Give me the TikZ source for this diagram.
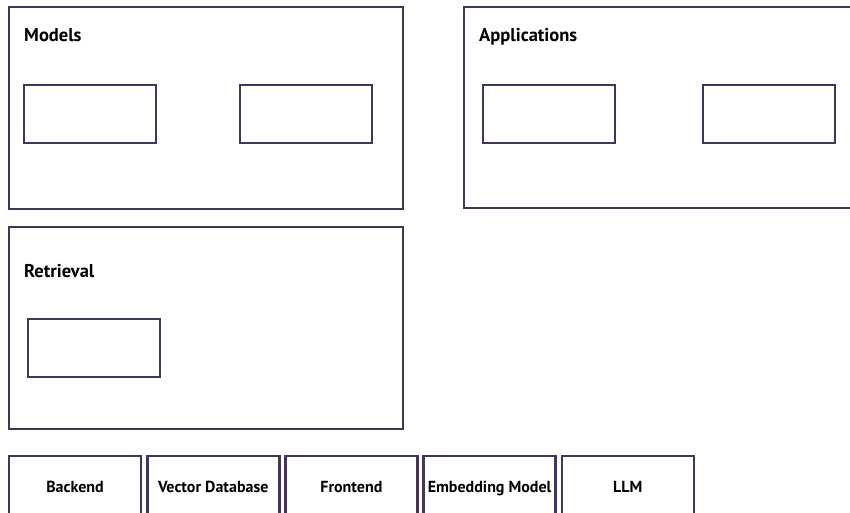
\documentclass[tikz,border=0pt]{standalone}
\usepackage{fontspec}
\setmainfont{PT Sans}
\usetikzlibrary{positioning}
\definecolor{frame}{HTML}{45345E}

\begin{document}
\begin{tikzpicture}[x=1pt,y=-1pt,
  box/.style={draw=frame,line width=2.6pt,rectangle,inner sep=0pt,outer sep=0pt,anchor=north west},
  slot/.style={box,minimum width=132pt,minimum height=58pt},
  title/.style={font=\bfseries\fontsize{18.5}{20}\selectfont,anchor=base west,inner sep=0pt},
  tag/.style={box,minimum width=132pt,minimum height=62pt,
    font=\bfseries\fontsize{16}{18}\selectfont,text height=11pt,text depth=0pt}]

\useasboundingbox (0,0) rectangle (850,513);
\clip (0,0) rectangle (850,513);

% layers
\node[box,minimum width=394pt,minimum height=202pt] (models) at (9,7) {};
\node[title] (modelsT) at (24,42) {Models};
\node[slot] (modelA) at (24,85) {};
\node[slot] (modelB) at (240,85) {};

\node[box,minimum width=410pt,minimum height=201pt] (apps) at (464,7) {};
\node[title] (appsT) at (479,42) {Applications};
\node[slot] (appA) at (483,85) {};
\node[slot] (appB) at (703,85) {};

\node[box,minimum width=394pt,minimum height=202pt] (retrieval) at (9,227) {};
\node[title] (retrievalT) at (24,277) {Retrieval};
\node[slot] (retrA) at (28,319) {};

% components
\foreach \n/\t [count=\i from 0] in
  {backend/Backend, vecdb/Vector Database, frontend/Frontend,
   embed/Embedding Model, llm/LLM}
  \node[tag] (\n) at (9+138.2*\i,456) {\t};

\end{tikzpicture}
\end{document}
